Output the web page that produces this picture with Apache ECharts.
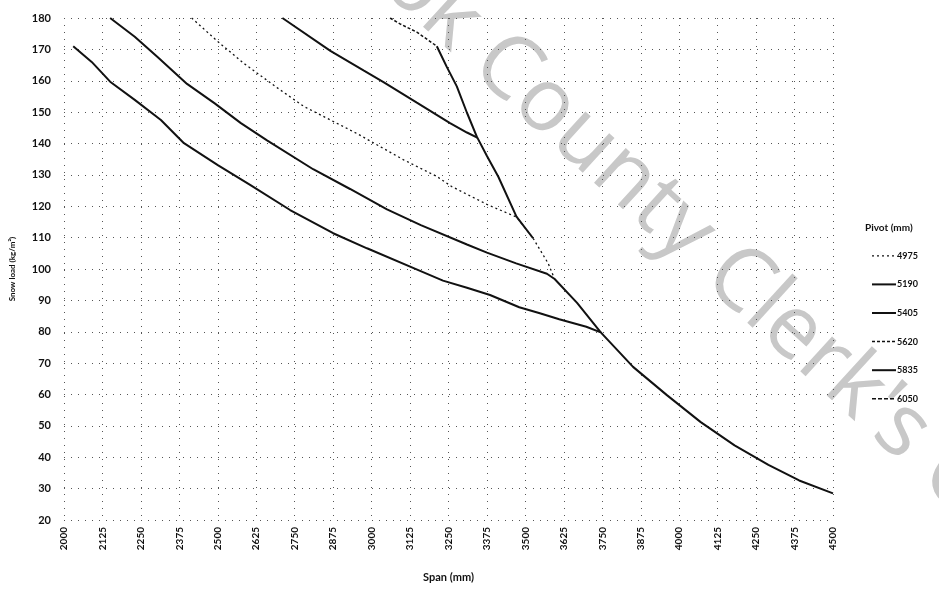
<!DOCTYPE html>
<html>
<head>
<meta charset="utf-8">
<script src="https://cdn.jsdelivr.net/npm/echarts@6/dist/echarts.min.js"></script>
<style>
  html, body { margin: 0; padding: 0; background: #fff; }
  #chart { width: 939px; height: 590px; }
</style>
</head>
<body>
<div id="chart"></div>
<script>
// pivot sizes shown in the legend
const pivots = ['4975', '5190', '5405', '5620', '5835', '6050']

// lowest curve, runs to the end of the axis
const spanA = [2030, 2090, 2150, 2230, 2315, 2390, 2500, 2605, 2735, 2875, 2985, 3150, 3232, 3310, 3385, 3480, 3547, 3610, 3698, 3745, 3850, 3960, 4070, 4180, 4290, 4390, 4500]
const loadA = [171, 166, 159.7, 153.9, 147.5, 140.1, 133.1, 126.8, 118.8, 111.4, 106.6, 99.7, 96.3, 94.0, 91.7, 87.8, 85.9, 84.0, 81.6, 79.8, 68.8, 59.8, 51.2, 43.8, 37.6, 32.6, 28.5]

const spanB = [2150, 2230, 2305, 2400, 2490, 2575, 2660, 2810, 2930, 3050, 3160, 3310, 3375, 3470, 3570, 3595, 3668, 3745]
const loadB = [180, 174, 167.5, 159, 152.8, 146.5, 141, 131.8, 125.5, 119, 114, 107.8, 105.2, 101.8, 98.5, 96.8, 89.2, 79.8]

// dotted curve
const spanC = [2415, 2500, 2585, 2704, 2780, 2866, 2952, 3104, 3212, 3260, 3375, 3472, 3525, 3574, 3595]
const loadC = [180, 172.5, 165.5, 157, 151.8, 147.5, 143.2, 134.8, 129.5, 126.3, 120.6, 116.5, 109.8, 101.8, 96.8]

const spanD = [2710, 2866, 2975, 3040, 3147, 3255, 3310, 3345]
const loadD = [180, 169.5, 163.2, 159.5, 153, 146.5, 143.5, 141.8]

// dashed curve at the top
const spanE = [3060, 3095, 3147, 3212]
const loadE = [180, 178, 175.5, 171]

// steep limit line
const spanF = [3212, 3244, 3277, 3310, 3342, 3375, 3412, 3471, 3525]
const loadF = [171, 164.5, 158.2, 149.8, 142.2, 136, 129.4, 116.7, 109.8]

const yTicks = { min: 20, max: 180, step: 10 }
const xTicks = { min: 2000, max: 4500, step: 125 }

const pairs = (xs, ys) => xs.map((x, i) => [x, ys[i]])

const chart = echarts.init(document.getElementById('chart'))
const ink = '#111'
const font = 'Lato'

const mkLine = (name, data, type, width) => ({
  name: name,
  type: 'line',
  data: data,
  symbol: 'none',
  smooth: false,
  lineStyle: { color: ink, width: width, type: type },
  itemStyle: { color: ink },
  z: 3
})

const option = {
  animation: false,
  backgroundColor: '#fff',
  title: {
    text: 'Pivot (mm)',
    left: 860,
    top: 218,
    textStyle: { fontFamily: font, fontSize: 10, fontWeight: 'bold', color: ink }
  },
  legend: {
    orient: 'vertical',
    left: 866,
    top: 246,
    itemWidth: 24,
    itemHeight: 12,
    itemGap: 19,
    itemStyle: { opacity: 0 },
    textStyle: { fontFamily: font, fontSize: 9, fontWeight: 'bold', color: ink, padding: [0, 0, 0, -4] },
    data: [
      { name: pivots[0], lineStyle: { type: [2, 3], width: 1.2 } },
      { name: pivots[1], lineStyle: { type: 'solid', width: 2 } },
      { name: pivots[2], lineStyle: { type: 'solid', width: 2 } },
      { name: pivots[3], lineStyle: { type: [3, 2], width: 1.5 } },
      { name: pivots[4], lineStyle: { type: 'solid', width: 2 } },
      { name: pivots[5], lineStyle: { type: [4, 2], width: 1.5 } }
    ]
  },
  graphic: [
    {
      type: 'text',
      x: 345,
      y: -138,
      rotation: -0.74,
      z: 0,
      style: {
        text: "Cook County Clerk's Office",
        fill: '#c8c8c8',
        font: 'normal 88px "Open Sans"'
      }
    }
  ],
  grid: { left: 63, right: 106, top: 18, bottom: 70 },
  xAxis: {
    type: 'value',
    min: xTicks.min,
    max: xTicks.max,
    interval: xTicks.step,
    name: 'Span (mm)',
    nameLocation: 'middle',
    nameGap: 52,
    nameTextStyle: { fontFamily: font, fontSize: 11, fontWeight: 'bold', color: ink },
    axisLine: { show: false },
    axisTick: { show: false },
    axisLabel: {
      rotate: 90,
      margin: 7,
      fontFamily: font,
      fontSize: 10,
      fontWeight: 'bold',
      color: ink,
      formatter: v => String(v)
    },
    splitLine: { show: true, lineStyle: { color: '#555', width: 1, type: [1, 6] } }
  },
  yAxis: {
    type: 'value',
    min: yTicks.min,
    max: yTicks.max,
    interval: yTicks.step,
    name: 'Snow load (kg/m²)',
    nameLocation: 'middle',
    nameGap: 48,
    nameTextStyle: { fontFamily: font, fontSize: 8, fontWeight: 'bold', color: ink },
    axisLine: { show: false },
    axisTick: { show: false },
    axisLabel: {
      margin: 13,
      fontFamily: font,
      fontSize: 11,
      fontWeight: 'bold',
      color: ink
    },
    splitLine: { show: true, lineStyle: { color: '#555', width: 1, type: [1, 6] } }
  },
  series: [
    mkLine(pivots[0], pairs(spanA, loadA), 'solid', 2),
    mkLine(pivots[1], pairs(spanB, loadB), 'solid', 2),
    mkLine(pivots[2], pairs(spanC, loadC), [2, 3], 1.3),
    mkLine(pivots[3], pairs(spanD, loadD), 'solid', 2),
    mkLine(pivots[4], pairs(spanE, loadE), [3, 2], 1.5),
    mkLine(pivots[5], pairs(spanF, loadF), 'solid', 2)
  ]
}

chart.setOption(option)
</script>
</body>
</html>
